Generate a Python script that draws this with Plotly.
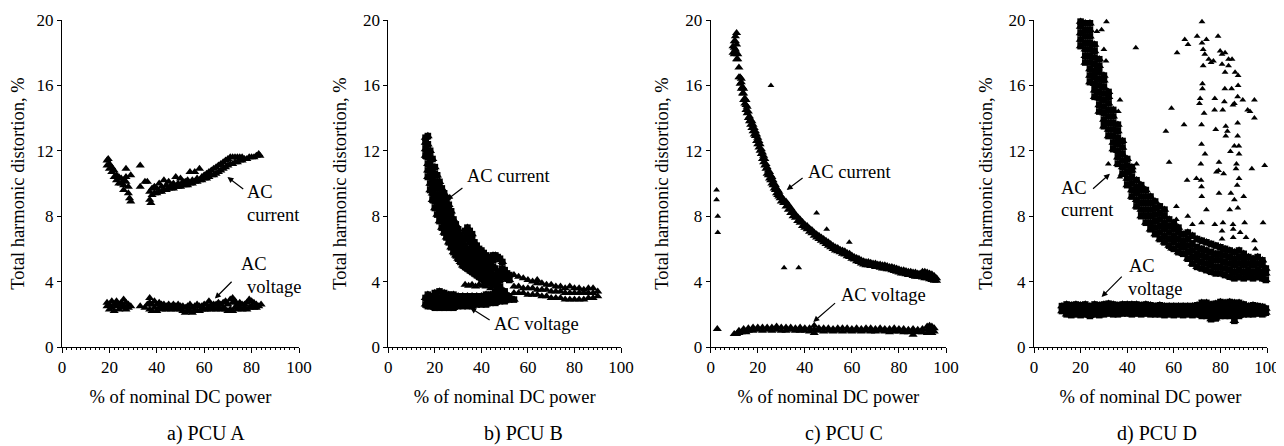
import plotly.graph_objects as go

FONT = "Liberation Serif"

X_TICKS = [0, 20, 40, 60, 80, 100]
Y_TICKS = [0, 4, 8, 12, 16, 20]
X_TITLE = "% of nominal DC power"
Y_TITLE = "Total harmonic distortion, %"
PANEL_LABELS = ["a) PCU A", "b) PCU B", "c) PCU C", "d) PCU D"]

# ---- data: (x, [y values at that x]) ----
A_CURRENT = [
    (19, [11.1, 11.4]), (19.5, [11.5]), (20, [10.9, 11.2]), (21, [10.7, 11.0]),
    (22, [10.4, 10.8]), (23, [10.2, 10.5]), (24, [10.0, 10.4]), (25, [10.0, 10.3]),
    (26, [9.6, 9.9, 10.2]), (27, [10.1, 10.4, 10.9]), (28, [9.4, 9.8]), (28.5, [9.1]),
    (29, [8.9, 10.5]), (33, [9.8, 11.1]), (35, [10.1]), (36, [10.1]),
    (37, [9.0, 9.5]), (37.5, [8.8]), (38, [9.3, 9.7]), (39, [9.4, 9.8]),
    (40, [9.4, 9.7]), (41, [9.5, 10.0]), (42, [9.5, 9.8]), (43, [9.6, 10.2]),
    (44, [9.6, 9.9]), (45, [9.7, 10.1]), (46, [9.7, 9.9]), (47, [9.7, 10.0]),
    (48, [9.8, 10.4]), (49, [9.8, 10.0]), (50, [9.8, 10.3]), (51, [9.9, 10.1]),
    (52, [9.9, 10.1]), (53, [9.9, 10.2]), (54, [10.0, 10.7]), (55, [10.0, 10.2]),
    (56, [10.1, 10.7]), (57, [10.1, 10.3]), (58, [10.2, 10.9]), (59, [10.2, 10.4]),
    (60, [10.3, 10.5]), (61, [10.3, 10.6]), (62, [10.4, 10.7]), (63, [10.5, 10.8]),
    (64, [10.5, 10.9]), (65, [10.6, 11.0]), (66, [10.7, 11.1]), (67, [10.8, 11.2]),
    (68, [10.9, 11.3]), (69, [11.0, 11.4]), (70, [11.1, 11.5]), (71, [11.2, 11.6]),
    (72, [11.2, 11.6]), (73, [11.3, 11.6]), (74, [11.3, 11.6]), (75, [11.4, 11.6]),
    (76, [11.4, 11.6]), (77, [11.5]), (78, [11.5]), (79, [11.6]), (80, [11.6]),
    (81, [11.6]), (82, [11.7]), (83, [11.8]), (83.5, [11.7]),
]
A_VOLTAGE = [
    (19, [2.5, 2.7]), (20, [2.3, 2.6]), (21, [2.4, 2.8]), (22, [2.2, 2.6]),
    (23, [2.5, 2.8]), (24, [2.3, 2.6]), (25, [2.4, 2.7]), (26, [2.5, 2.9]),
    (27, [2.3, 2.7]), (28, [2.4, 2.6]), (29, [2.5]), (33, [2.5]), (35, [2.4]),
    (36, [2.6]), (37, [2.3, 2.7, 3.0]), (38, [2.2, 2.6]), (39, [2.4, 2.8]),
    (40, [2.2, 2.6]), (41, [2.4, 2.7]), (42, [2.3, 2.6]), (43, [2.4, 2.6]),
    (44, [2.3, 2.5]), (45, [2.4, 2.6]), (46, [2.3, 2.5]), (47, [2.4, 2.6]),
    (48, [2.3, 2.5]), (49, [2.4, 2.6]), (50, [2.3, 2.5]), (51, [2.2, 2.5]),
    (52, [2.1, 2.4]), (53, [2.2, 2.5]), (54, [2.2, 2.6]), (55, [2.1, 2.4]),
    (56, [2.2, 2.5]), (57, [2.2, 2.6]), (58, [2.2, 2.5]), (59, [2.3, 2.5]),
    (60, [2.3, 2.6]), (61, [2.3, 2.6]), (62, [2.4, 2.8]), (63, [2.3, 2.6]),
    (64, [2.4, 2.6]), (65, [2.3, 2.6]), (66, [2.4, 2.7]), (67, [2.3, 2.6]),
    (68, [2.4, 2.7]), (69, [2.3, 2.8]), (70, [2.2, 2.6]), (71, [2.3, 2.9]),
    (72, [2.2, 2.7, 3.0]), (73, [2.4, 2.8]), (74, [2.3, 2.6]), (75, [2.4, 2.7]),
    (76, [2.3, 2.6]), (77, [2.4, 2.6]), (78, [2.3, 2.7]), (79, [2.4, 2.9]),
    (80, [2.5, 2.8]), (81, [2.4, 2.7]), (82, [2.4, 2.6]), (83, [2.5]), (84, [2.6]),
]

B_CURRENT = [
    (16, [11.7, 12.1, 12.5, 12.8]),
    (17, [10.4, 10.8, 11.2, 11.6, 12.0, 12.4, 12.9]),
    (18, [9.6, 10.0, 10.4, 10.8, 11.2, 11.6, 12.0]),
    (19, [9.0, 9.4, 9.8, 10.2, 10.6, 11.0, 11.5]),
    (20, [8.5, 8.9, 9.3, 9.7, 10.1, 10.6, 11.0]),
    (21, [8.1, 8.5, 8.9, 9.3, 9.7, 10.1, 10.5]),
    (22, [7.7, 8.1, 8.5, 8.9, 9.3, 9.7, 10.1]),
    (23, [7.3, 7.7, 8.1, 8.5, 8.9, 9.3, 9.7]),
    (24, [7.0, 7.4, 7.8, 8.2, 8.6, 9.0, 9.4]),
    (25, [6.7, 7.1, 7.5, 7.9, 8.3, 8.7, 9.1]),
    (26, [6.4, 6.8, 7.2, 7.6, 8.0, 8.4, 8.7]),
    (27, [6.1, 6.5, 6.9, 7.3, 7.7, 8.0, 8.3]),
    (28, [5.8, 6.2, 6.6, 7.0, 7.4, 7.8]),
    (29, [5.6, 6.0, 6.4, 6.8, 7.2, 7.5]),
    (30, [5.4, 5.8, 6.2, 6.6, 7.0, 7.2]),
    (31, [5.2, 5.6, 6.0, 6.4, 6.8]),
    (32, [5.0, 5.4, 5.8, 6.2, 6.5]),
    (33, [4.9, 5.3, 5.7, 6.1]),
    (34, [4.8, 5.2, 5.6, 6.0]),
    (35, [4.7, 5.1, 5.5, 5.8]),
    (36, [4.6, 5.0, 5.4, 5.7]),
    (37, [4.5, 4.9, 5.3, 5.5]),
    (38, [4.4, 4.8, 5.1, 5.4]),
    (39, [4.3, 4.7, 5.0, 5.2]),
    (40, [4.2, 4.6, 4.9, 5.1]),
    (41, [4.1, 4.5, 4.9]),
    (42, [4.0, 4.4, 4.8]),
    (43, [3.95, 4.3, 4.6]),
    (44, [3.9, 4.2, 4.5]),
    (45, [3.85, 4.1, 4.4]),
    (46, [3.8, 4.0, 4.3]),
    (47, [3.75, 4.2]),
    (48, [3.7, 4.1]),
    # upper branch
    (33, [6.7, 7.1]), (34, [6.6, 7.0, 7.3]), (35, [6.4, 6.8, 7.1]), (36, [6.2, 6.6, 6.9]),
    (37, [6.0, 6.4]), (38, [5.8, 6.2]), (39, [5.6, 6.0]), (40, [5.5, 5.9]),
    (41, [5.35, 5.75]), (42, [5.2, 5.6]), (43, [5.1, 5.5]), (44, [5.0, 5.4]),
    (45, [4.9, 5.3, 5.6]), (46, [4.8, 5.6]), (47, [4.6, 5.5]), (48, [4.5, 5.4]),
    (49, [4.4, 4.8, 5.2]), (50, [4.3, 4.7]), (51, [4.2, 4.5]), (52, [4.1, 4.4]),
]
B_CURRENT_TAIL = [
    (33, [3.8]), (34.5, [3.75]), (36, [3.8]), (37.5, [3.7]), (39, [3.8]),
    (40.5, [3.75]), (42, [3.7]), (44, [3.6]), (46, [3.5]), (48, [3.45]), (50, [3.4]),
    (54, [3.3, 3.7, 4.4]), (56, [3.3, 3.7, 4.3]), (58, [3.3, 3.6, 4.2]),
    (60, [3.2, 3.6, 4.1]), (62, [3.2, 3.6, 4.0]), (64, [3.2, 3.5, 3.9, 4.1]),
    (66, [3.1, 3.5, 3.9]), (68, [3.1, 3.5, 3.8]), (70, [3.0, 3.4, 3.8]),
    (72, [3.0, 3.4, 3.7]), (74, [3.0, 3.4, 3.7]), (76, [2.9, 3.3, 3.6]),
    (78, [2.9, 3.3, 3.7]), (80, [2.9, 3.3, 3.6]), (82, [2.9, 3.3, 3.6]),
    (84, [2.9, 3.3, 3.5]), (86, [3.0, 3.3, 3.6]), (88, [3.0, 3.3, 3.6]),
    (90, [3.1, 3.4]),
]
B_VOLTAGE = [
    (16, [2.6, 3.0]), (17, [2.5, 2.8, 3.2]), (18, [2.5, 2.8, 3.1]),
    (20, [2.4, 2.7, 3.0, 3.3]), (22, [2.4, 2.7, 3.0, 3.4]), (24, [2.4, 2.7, 3.0, 3.3]),
    (26, [2.4, 2.7, 3.0, 3.2]), (28, [2.4, 2.7, 3.0, 3.2]), (30, [2.5, 2.8, 3.1]),
    (32, [2.5, 2.8, 3.1]), (34, [2.5, 2.8, 3.1]), (36, [2.5, 2.8, 3.1]),
    (38, [2.6, 2.9, 3.1]), (40, [2.6, 2.9, 3.1]), (42, [2.6, 2.9, 3.2]),
    (44, [2.7, 3.0, 3.2]), (46, [2.7, 3.0, 3.3]), (48, [2.8, 3.1, 3.3]),
    (50, [2.8, 3.1, 3.4]), (52, [2.9, 3.1]), (54, [2.9]),
]

C_CURRENT = [
    (9.5, [18.0, 18.4]), (10, [17.9, 18.3, 18.7]), (10.5, [18.2, 18.7, 19.0]),
    (11, [17.6, 18.0, 18.5, 19.2]), (11.5, [17.6, 17.9]), (12, [16.5, 17.1]),
    (12.5, [16.1, 16.5]), (13, [15.8, 16.2, 16.4]), (13.5, [15.5, 15.9]),
    (14, [15.1, 15.5, 15.8]), (14.5, [14.9, 15.2]), (15, [14.5, 14.8, 15.1]),
    (15.5, [14.3, 14.7]), (16, [14.0, 14.4]), (16.5, [13.8, 14.1]), (17, [13.6, 13.9]),
    (17.5, [13.4, 13.8]), (18, [13.2, 13.6]), (18.5, [13.0, 13.4]), (19, [12.9, 13.2]),
    (19.5, [12.6, 13.0]), (20, [12.4, 12.8]), (20.5, [12.2, 12.6]), (21, [12.0, 12.4]),
    (21.5, [11.8, 12.1]), (22, [11.5, 11.9]), (22.5, [11.3, 11.7]), (23, [11.1, 11.5]),
    (23.5, [10.9, 11.2]), (24, [10.6, 11.0]), (24.5, [10.5, 10.8]), (25, [10.3, 10.7]),
    (25.5, [10.2, 10.5]), (26, [10.0, 10.4]), (26.5, [9.9, 10.2]), (27, [9.7, 10.0]),
    (27.5, [9.6, 9.9]), (28, [9.4, 9.7]), (28.5, [9.3, 9.6]), (29, [9.2, 9.5]),
    (29.5, [9.1, 9.3]), (30, [8.9, 9.2]), (31, [8.8, 9.0]), (32, [8.6, 8.9]),
    (33, [8.4, 8.7]), (34, [8.2, 8.5]), (35, [8.0, 8.3]), (36, [7.9, 8.1]),
    (37, [7.7, 7.95]), (38, [7.6, 7.8]), (39, [7.4, 7.65]), (40, [7.3, 7.5]),
    (41, [7.2, 7.4]), (42, [7.05, 7.25]), (43, [6.95, 7.15]), (44, [6.8, 7.0]),
    (45, [6.7, 6.9]), (46, [6.6, 6.8]), (47, [6.5, 6.7]), (48, [6.4, 6.6]),
    (49, [6.3, 6.5]), (50, [6.2, 6.4]), (51, [6.1, 6.3]), (52, [6.0, 6.2]),
    (53, [5.9, 6.1]), (54, [5.85, 6.05]), (55, [5.8, 5.95]), (56, [5.7, 5.9]),
    (57, [5.65, 5.85]), (58, [5.55, 5.75]), (59, [5.5, 5.7]), (60, [5.4, 5.6]),
    (61, [5.35, 5.5]), (62, [5.25, 5.45]), (63, [5.2, 5.4]), (64, [5.1, 5.3]),
    (65, [5.05, 5.25]), (66, [5.0, 5.2]), (67, [5.0, 5.2]), (68, [4.95, 5.15]),
    (69, [4.95, 5.1]), (70, [4.9, 5.1]), (71, [4.9, 5.05]), (72, [4.85, 5.05]),
    (73, [4.8, 5.0]), (74, [4.8, 5.0]), (75, [4.75, 4.95]), (76, [4.75, 4.9]),
    (77, [4.7, 4.9]), (78, [4.65, 4.85]), (79, [4.6, 4.8]), (80, [4.55, 4.75]),
    (81, [4.5, 4.7]), (82, [4.5, 4.7]), (83, [4.45, 4.65]), (84, [4.4, 4.6]),
    (85, [4.4, 4.6]), (86, [4.35, 4.55]), (87, [4.3, 4.55]), (88, [4.3, 4.5]),
    (89, [4.3, 4.5]), (90, [4.25, 4.45, 4.6]), (91, [4.2, 4.4, 4.6]),
    (92, [4.2, 4.4, 4.55]), (93, [4.15, 4.35, 4.5]), (94, [4.1, 4.3, 4.45]),
    (95, [4.05, 4.2, 4.35]), (96, [4.05, 4.2]),
]
C_CURRENT_OUTLIERS = [
    (2.5, [9.0, 9.6]), (3, [7.0, 8.0]), (25.6, [16.0]), (31.2, [4.85]),
    (37.4, [4.85]), (45, [8.2]), (49.3, [7.2]), (58.9, [6.4]),
]
C_VOLTAGE = [
    (2.8, [1.1]), (10, [0.8]), (11, [0.8]), (12, [0.85, 1.0]), (13, [0.9]),
    (14, [0.95, 1.1]), (15, [0.9]), (16, [1.0, 1.15]), (18, [1.0, 1.2]),
    (20, [1.05, 1.2]), (22, [1.0, 1.2]), (24, [1.05, 1.2]), (26, [1.0, 1.2]),
    (28, [1.05, 1.25]), (30, [1.0, 1.2]), (32, [1.0, 1.2]), (34, [1.05, 1.2]),
    (36, [1.0, 1.15]), (38, [1.0, 1.2]), (40, [1.0, 1.15]), (42, [0.95, 1.15]),
    (44, [0.85, 1.05, 1.3]), (46, [1.0, 1.15]), (48, [0.95, 1.15]), (50, [1.0, 1.15]),
    (52, [0.95, 1.1]), (54, [1.0, 1.15]), (56, [0.95, 1.15]), (58, [1.0, 1.15]),
    (60, [0.95, 1.1]), (62, [1.0, 1.15]), (64, [0.95, 1.1]), (66, [1.0, 1.15]),
    (68, [0.95, 1.15]), (70, [0.95, 1.1]), (72, [1.0, 1.15]), (74, [0.95, 1.1]),
    (76, [0.9, 1.1]), (78, [0.95, 1.15]), (80, [0.95, 1.1]), (82, [0.9, 1.1]),
    (84, [0.9, 1.05]), (86, [0.75, 0.95, 1.1]), (88, [0.9, 1.05]), (90, [0.9, 1.1]),
    (92, [0.85, 1.05, 1.25]), (93, [0.9, 1.1, 1.3]), (94, [0.85, 1.05, 1.25]),
    (95, [0.95, 1.15]),
]

D_CURRENT = [
    (20, [18.4, 18.8, 19.2, 19.6, 19.9]),
    (22, [17.4, 17.8, 18.2, 18.6, 19.0, 19.4, 19.8]),
    (24, [16.2, 16.6, 17.0, 17.4, 17.8, 18.2, 18.6, 19.0, 19.4, 19.8]),
    (26, [15.3, 15.7, 16.1, 16.5, 16.9, 17.3, 17.7, 18.1, 18.5]),
    (28, [14.4, 14.8, 15.2, 15.6, 16.0, 16.4, 16.8, 17.2, 17.6]),
    (30, [13.5, 13.9, 14.3, 14.7, 15.1, 15.5, 15.9, 16.3, 16.6]),
    (32, [12.9, 13.3, 13.7, 14.1, 14.5, 14.9, 15.3, 15.6]),
    (34, [12.1, 12.5, 12.9, 13.3, 13.7, 14.1, 14.5]),
    (36, [11.2, 11.6, 12.0, 12.4, 12.8, 13.2, 13.6]),
    (38, [10.6, 11.0, 11.4, 11.8, 12.2, 12.6]),
    (40, [9.9, 10.3, 10.7, 11.1, 11.5]),
    (42, [9.2, 9.6, 10.0, 10.4, 10.8, 11.0]),
    (44, [8.6, 9.0, 9.4, 9.8, 10.2]),
    (46, [8.0, 8.4, 8.8, 9.2, 9.6, 9.9]),
    (48, [7.6, 8.0, 8.4, 8.8, 9.2, 9.6]),
    (50, [7.2, 7.6, 8.0, 8.4, 8.8, 9.2]),
    (52, [6.9, 7.3, 7.7, 8.1, 8.5, 8.9]),
    (54, [6.6, 7.0, 7.4, 7.8, 8.2, 8.6]),
    (56, [6.4, 6.8, 7.2, 7.6, 8.0, 8.4]),
    (58, [6.2, 6.6, 7.0, 7.4, 7.8]),
    (60, [6.0, 6.4, 6.8, 7.2, 7.6]),
    (62, [5.8, 6.2, 6.6, 7.0, 7.3]),
    (64, [5.7, 6.1, 6.5, 6.9]),
    (66, [5.4, 5.8, 6.2, 6.6, 7.0]),
    (68, [5.1, 5.5, 5.9, 6.3, 6.8]),
    (70, [4.9, 5.3, 5.7, 6.1, 6.6]),
    (72, [4.8, 5.2, 5.6, 6.0, 6.5]),
    (74, [4.7, 5.1, 5.5, 5.9, 6.4]),
    (76, [4.6, 5.0, 5.4, 5.8, 6.3]),
    (78, [4.5, 4.9, 5.3, 5.7, 6.2]),
    (80, [4.5, 4.9, 5.3, 5.7, 6.1]),
    (82, [4.4, 4.8, 5.2, 5.6, 6.0]),
    (84, [4.3, 4.7, 5.1, 5.5, 5.9]),
    (86, [4.2, 4.6, 5.0, 5.4, 5.8]),
    (88, [4.3, 4.7, 5.1, 5.5, 5.9]),
    (90, [4.2, 4.6, 5.0, 5.4, 5.7]),
    (92, [4.3, 4.7, 5.1, 5.5]),
    (94, [4.2, 4.6, 5.0, 5.4]),
    (96, [4.3, 4.7, 5.1, 5.5]),
    (98, [4.2, 4.6, 5.0, 5.3]),
    (99.5, [4.1, 4.5, 4.8]),
]
D_CURRENT_OUTLIERS = [
    (27, [19.3]), (29, [19.4]), (31.1, [19.9]), (30, [18.2]), (30.9, [17.5]),
    (43.7, [18.3]), (36.9, [15.1]), (36.2, [14.4]), (31.9, [11.2]), (44, [11.2]),
    (36.9, [10.4]), (58.6, [6.0]),
    (72.1, [19.9, 18.6]), (70, [19.0]), (79, [19.0]), (64.7, [18.8]), (66.1, [18.5]),
    (74, [18.8, 8.4]), (61.4, [18.0]), (72.6, [18.2, 17.2]), (73.3, [17.9]),
    (79.9, [18.1]), (80.7, [17.9, 17.3, 7.1, 6.6]), (82, [18.0, 16.8]), (75, [17.6]),
    (77, [17.5]), (76, [17.4]), (83.5, [17.6, 17.2]), (85, [17.6]), (86.3, [16.8]),
    (87.6, [16.6, 16.0]), (72.3, [16.1, 15.8]), (81.9, [15.8]), (84.8, [15.8]),
    (71.3, [15.2]), (77.6, [15.2, 7.5]), (81.7, [15.0]), (87.4, [15.3, 13.7, 12.9]),
    (89.6, [15.1]), (94.6, [15.1, 14.0, 6.5]), (71, [14.9]), (59, [14.6]),
    (77.5, [14.5]), (81, [14.5]), (85.4, [14.8, 7.5]), (86, [14.9, 12.3, 9.0]),
    (91.7, [14.5]), (92.7, [14.4]), (73, [14.3]), (64.4, [13.6]),
    (71.9, [13.6, 12.4, 9.8, 7.6]), (78, [13.3]), (82.3, [13.5, 12.9]), (83, [13.2]),
    (56.6, [13.2]), (87.9, [12.3]), (84.3, [11.95]), (73.4, [11.8]), (88, [11.8, 10.3]),
    (58, [11.3]), (71.6, [11.2]), (79.4, [11.3, 9.4]), (86.9, [11.2]), (86.7, [10.9]),
    (99, [11.1]), (78.3, [10.7]), (79.2, [10.8]), (81.4, [10.6]), (65.7, [10.2]),
    (69.7, [10.3]), (71.7, [10.2]), (72, [9.2]), (84.5, [9.4]), (87.2, [9.9]),
    (61.1, [8.6, 7.8]), (84, [8.4]), (87.5, [8.5]), (81.1, [7.6]), (90.4, [7.6]),
    (98.3, [7.6]), (85.5, [7.2, 6.7]), (88.5, [7.0]), (91, [6.7]), (98.5, [5.3]),
    (68, [7.5]), (66, [8.0]), (93.5, [10.9]), (90, [9.2]), (95, [6.0]),
]
D_VOLTAGE = [
    (12, [2.2, 2.5]), (14, [2.0, 2.3, 2.6]), (16, [1.95, 2.25, 2.55]), (18, [2.0, 2.3, 2.6]),
    (20, [1.95, 2.25, 2.55]), (22, [2.0, 2.3, 2.6]), (24, [1.9, 2.2, 2.5]),
    (26, [2.0, 2.3, 2.6]), (28, [1.95, 2.25, 2.55]), (30, [2.0, 2.3, 2.6]),
    (32, [2.05, 2.35, 2.65]), (34, [2.0, 2.3, 2.6]), (36, [2.0, 2.3, 2.55]),
    (38, [2.05, 2.35, 2.6]), (40, [2.05, 2.35, 2.6]), (42, [2.0, 2.3, 2.6]),
    (44, [2.05, 2.35, 2.6]), (46, [2.0, 2.3, 2.55]), (48, [2.05, 2.3, 2.6]),
    (50, [2.0, 2.3, 2.55]), (52, [2.0, 2.25, 2.5]), (54, [2.0, 2.3, 2.55]),
    (56, [1.95, 2.25, 2.5]), (58, [2.0, 2.25, 2.5]), (60, [1.95, 2.2, 2.5]),
    (62, [2.0, 2.25, 2.5]), (64, [1.95, 2.2, 2.5]), (66, [2.0, 2.25, 2.5]),
    (68, [1.95, 2.2, 2.5]), (70, [2.0, 2.3, 2.55]), (72, [1.9, 2.2, 2.5, 2.7]),
    (74, [1.9, 2.2, 2.5, 2.7]), (76, [1.7, 2.0, 2.3, 2.6]), (78, [1.75, 2.05, 2.35, 2.65]),
    (80, [1.9, 2.2, 2.5, 2.75]), (82, [1.9, 2.2, 2.5, 2.7]), (84, [1.9, 2.2, 2.5, 2.75]),
    (86, [1.6, 1.9, 2.2, 2.5, 2.7]), (88, [1.9, 2.2, 2.5, 2.7]), (90, [2.0, 2.3, 2.6]),
    (92, [2.0, 2.3, 2.5]), (94, [2.0, 2.3, 2.55]), (96, [2.05, 2.3, 2.5]),
    (98, [2.0, 2.25, 2.45]), (99.5, [2.1, 2.35]),
]


def flat(cols):
    xs, ys = [], []
    for x, yl in cols:
        for y in yl:
            xs.append(x)
            ys.append(y)
    return xs, ys


# (series, triangle size, solid core drawn under the triangles?)
PANELS = [
    [(A_CURRENT, 8, False), (A_VOLTAGE, 8, False)],
    [(B_CURRENT, 8.5, True), (B_CURRENT_TAIL, 8, False), (B_VOLTAGE, 8.5, True)],
    [(C_CURRENT, 8, False), (C_CURRENT_OUTLIERS, 6, False), (C_VOLTAGE, 8, False)],
    [(D_CURRENT, 8.5, True), (D_CURRENT_OUTLIERS, 6, False), (D_VOLTAGE, 8.5, True)],
]

# the page body adds an 8 px margin, so the figure is drawn 8 px in from the corner
OFF = 8
W, H = 1284 - OFF, 446 - OFF
X_DOMAINS = [(62, 299), (388.3, 621), (710.7, 946), (1034, 1267)]
Y_DOMAIN = [1 - (347 - OFF) / H, 1 - (20 - OFF) / H]

fig = go.Figure()
tick_font = dict(family=FONT, size=17, color="black")
title_font = dict(family=FONT, size=18.5, color="black")

for i, series in enumerate(PANELS):
    n = "" if i == 0 else str(i + 1)
    for cols, size, core in series:
        xs, ys = flat(cols)
        if core:
            fig.add_trace(go.Scatter(
                x=xs, y=ys, mode="markers", xaxis="x" + n, yaxis="y" + n,
                marker=dict(symbol="square", size=6.6, color="black", line=dict(width=0)),
                cliponaxis=False, showlegend=False, hoverinfo="skip"))
        fig.add_trace(go.Scatter(
            x=xs, y=ys, mode="markers", xaxis="x" + n, yaxis="y" + n,
            marker=dict(symbol="triangle-up", size=size, color="black", line=dict(width=0)),
            cliponaxis=False, showlegend=False, hoverinfo="skip"))
    d0, d1 = X_DOMAINS[i]
    fig.layout["xaxis" + n] = dict(
        domain=[(d0 - OFF) / W, (d1 - OFF) / W], range=[0, 100], anchor="y" + n,
        automargin=False,
        tickvals=X_TICKS, ticks="outside", ticklen=5, tickwidth=1, tickcolor="black",
        showline=True, linecolor="black", linewidth=1, showgrid=False, zeroline=False,
        tickfont=tick_font,
        minor=dict(dtick=2, ticks="outside", ticklen=2, tickcolor="black", showgrid=False),
        title=dict(text=X_TITLE, font=title_font, standoff=13))
    fig.layout["yaxis" + n] = dict(
        domain=Y_DOMAIN, range=[0, 20], anchor="x" + n, automargin=False,
        tickvals=Y_TICKS, ticks="outside", ticklen=4, tickwidth=1, tickcolor="black",
        showline=True, linecolor="black", linewidth=1, showgrid=False, zeroline=False,
        tickfont=tick_font,
        title=dict(text=Y_TITLE, font=title_font, standoff=11))

ann = []
# text labels per panel: (panel index, text, x, y)
LABELS = [
    (0, "AC", 77.6, 9.5), (0, "current", 77.6, 8.05), (0, "AC", 75.3, 5.05), (0, "voltage", 77.8, 3.68),
    (1, "AC current", 33.2, 10.45), (1, "AC voltage", 45.1, 1.43),
    (2, "AC current", 40.8, 10.7), (2, "AC voltage", 55.0, 3.16),
    (3, "AC", 11.1, 9.7), (3, "current", 11.1, 8.35), (3, "AC", 40.4, 4.95), (3, "voltage", 39.7, 3.55),
]
# arrows per panel: (panel index, head x, head y, tail x, tail y)
ARROWS = [
    (0, 69.8, 10.4, 77.1, 9.6), (0, 64.5, 2.96, 72.2, 4.08),
    (1, 25.1, 9.0, 32.5, 9.8), (1, 35.2, 2.4, 44.2, 1.6),
    (2, 32.3, 9.6, 39.7, 10.4), (2, 43.6, 1.53, 53.5, 2.76),
    (3, 32.6, 10.6, 24.7, 9.6), (3, 29.0, 3.06, 38.3, 4.4),
]
for p, text, x, y in LABELS:
    n = "" if p == 0 else str(p + 1)
    ann.append(dict(text=text, x=x, y=y, xref="x" + n, yref="y" + n, showarrow=False,
                    xanchor="left", yanchor="middle", font=title_font, borderpad=0))
for p, hx, hy, tx, ty in ARROWS:
    n = "" if p == 0 else str(p + 1)
    ann.append(dict(text="", x=hx, y=hy, ax=tx, ay=ty, xref="x" + n, yref="y" + n,
                    axref="x" + n, ayref="y" + n, showarrow=True, arrowhead=2,
                    arrowsize=1, arrowwidth=1.2, arrowcolor="black"))
SUB_X = [206, 523, 844, 1157]
for label, sx in zip(PANEL_LABELS, SUB_X):
    ann.append(dict(text=label, x=(sx - OFF) / W, y=1 - (433 - OFF) / H,
                    xref="paper", yref="paper",
                    showarrow=False, xanchor="center", yanchor="middle",
                    font=dict(family=FONT, size=20, color="black")))

fig.update_layout(width=W, height=H, margin=dict(l=0, r=0, t=0, b=0, autoexpand=False),
                  paper_bgcolor="white", plot_bgcolor="white",
                  annotations=ann, showlegend=False)

fig.write_html("out.html")
